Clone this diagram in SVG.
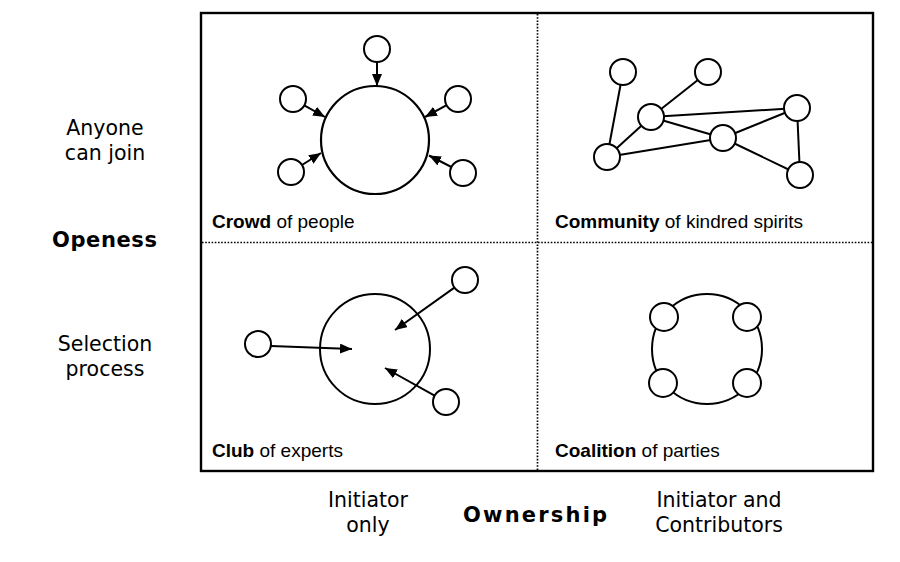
<svg xmlns="http://www.w3.org/2000/svg" width="900" height="562" viewBox="0 0 900 562">
<defs>
<style>
.bg{fill:#ffffff}
.frame{fill:none;stroke:#000;stroke-width:2.4}
.div{fill:none;stroke:#000;stroke-width:1.7;stroke-dasharray:1.6 1.6}
.n{fill:#fff;stroke:#000;stroke-width:2}
.big{fill:#fff;stroke:#000;stroke-width:2.2}
.e{fill:none;stroke:#000;stroke-width:2}
.a{fill:none;stroke:#000;stroke-width:2;marker-end:url(#ah)}
.q{font-family:"Liberation Sans",Arial,sans-serif;font-size:19px;fill:#000}
.q .b{font-weight:bold}
.lab{font-family:"DejaVu Sans","Liberation Sans",sans-serif;font-size:20.5px;fill:#000;text-anchor:middle}
.axis{font-family:"DejaVu Sans","Liberation Sans",sans-serif;font-size:21px;font-weight:bold;fill:#000}
</style>
<marker id="ah" markerUnits="userSpaceOnUse" markerWidth="13" markerHeight="10" refX="12" refY="5" orient="auto">
<path d="M0,0 L12,5 L0,10 Z" fill="#000"/>
</marker>
</defs>
<rect class="bg" x="0" y="0" width="900" height="562"/>

<!-- frame and dividers -->
<rect class="frame" x="201" y="13" width="672" height="458"/>
<line class="div" x1="537.5" y1="14" x2="537.5" y2="470"/>
<line class="div" x1="202" y1="242.5" x2="872" y2="242.5"/>

<!-- connectors -->
<g id="connectors">
  <!-- crowd arrows -->
  <line class="a" x1="377" y1="62" x2="377" y2="86"/>
  <line class="a" x1="304.3" y1="105.4" x2="325" y2="117"/>
  <line class="a" x1="302" y1="165" x2="321" y2="153"/>
  <line class="a" x1="446.6" y1="105.2" x2="425" y2="117"/>
  <line class="a" x1="451.4" y1="167" x2="429" y2="155.5"/>
  <!-- community edges -->
  <line class="e" x1="623" y1="72" x2="607" y2="157"/>
  <line class="e" x1="708" y1="72" x2="651" y2="117"/>
  <line class="e" x1="651" y1="117" x2="797" y2="108"/>
  <line class="e" x1="651" y1="117" x2="723" y2="138"/>
  <line class="e" x1="651" y1="117" x2="607" y2="157"/>
  <line class="e" x1="607" y1="157" x2="723" y2="138"/>
  <line class="e" x1="723" y1="138" x2="797" y2="108"/>
  <line class="e" x1="723" y1="138" x2="800" y2="175"/>
  <line class="e" x1="797" y1="108" x2="800" y2="175"/>
  <!-- club arrows -->
  <line class="a" x1="271" y1="346" x2="352" y2="349"/>
  <line class="a" x1="454.4" y1="287.6" x2="395" y2="330"/>
  <line class="a" x1="434.6" y1="395.7" x2="385" y2="368"/>
</g>

<!-- Crowd quadrant -->
<g id="crowd-center"><circle class="big" cx="375" cy="140" r="54"/></g>
<g id="crowd-p1"><circle class="n" cx="377" cy="49" r="13"/></g>
<g id="crowd-p2"><circle class="n" cx="293" cy="99" r="13"/></g>
<g id="crowd-p3"><circle class="n" cx="291" cy="172" r="13"/></g>
<g id="crowd-p4"><circle class="n" cx="458" cy="99" r="13"/></g>
<g id="crowd-p5"><circle class="n" cx="463" cy="173" r="13"/></g>
<text class="q" x="212" y="228"><tspan class="b">Crowd</tspan> of people</text>

<!-- Community quadrant -->
<g id="comm-a"><circle class="n" cx="623" cy="72" r="13"/></g>
<g id="comm-b"><circle class="n" cx="708" cy="72" r="13"/></g>
<g id="comm-c"><circle class="n" cx="651" cy="117" r="13"/></g>
<g id="comm-d"><circle class="n" cx="797" cy="108" r="13"/></g>
<g id="comm-e"><circle class="n" cx="723" cy="138" r="13"/></g>
<g id="comm-f"><circle class="n" cx="607" cy="157" r="13"/></g>
<g id="comm-g"><circle class="n" cx="800" cy="175" r="13"/></g>
<text class="q" x="555" y="228"><tspan class="b">Community</tspan> of kindred spirits</text>

<!-- Club quadrant -->
<g id="club-center"><circle class="e" cx="375" cy="349" r="55"/></g>
<g id="club-p1"><circle class="n" cx="258" cy="344" r="13"/></g>
<g id="club-p2"><circle class="n" cx="465" cy="280" r="13"/></g>
<g id="club-p3"><circle class="n" cx="446" cy="402" r="13"/></g>
<text class="q" x="212" y="457"><tspan class="b">Club</tspan> of experts</text>

<!-- Coalition quadrant -->
<g id="coal-ring"><circle class="e" cx="707" cy="349" r="55"/></g>
<g id="coal-p1"><circle class="n" cx="664" cy="317" r="14"/></g>
<g id="coal-p2"><circle class="n" cx="747" cy="317" r="14"/></g>
<g id="coal-p3"><circle class="n" cx="663" cy="383" r="14"/></g>
<g id="coal-p4"><circle class="n" cx="747" cy="383" r="14"/></g>
<text class="q" x="555" y="457"><tspan class="b">Coalition</tspan> of parties</text>

<!-- axis labels -->
<text class="lab" x="105" y="135"><tspan x="105" y="135">Anyone</tspan><tspan x="105" y="159.5">can join</tspan></text>
<text class="axis" x="52" y="247" letter-spacing="0.6">Openess</text>
<text class="lab" x="105" y="351"><tspan x="105" y="351">Selection</tspan><tspan x="105" y="375.5">process</tspan></text>

<text class="lab" x="368" y="507"><tspan x="368" y="507">Initiator</tspan><tspan x="368" y="531.5">only</tspan></text>
<text class="axis" x="463" y="522" letter-spacing="2.2">Ownership</text>
<text class="lab" x="719" y="507"><tspan x="719" y="507">Initiator and</tspan><tspan x="719" y="531.5">Contributors</tspan></text>
</svg>
